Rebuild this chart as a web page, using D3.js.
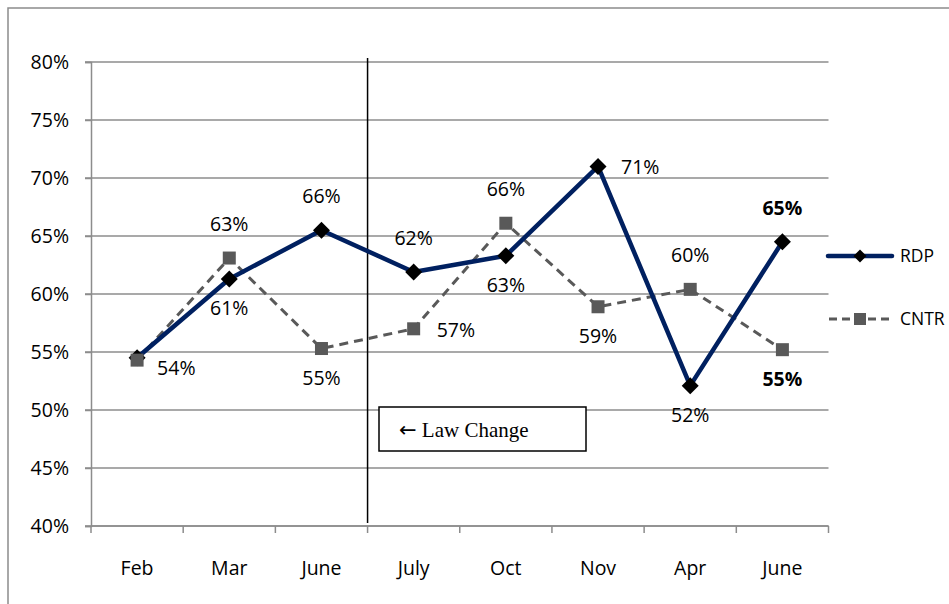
<!DOCTYPE html>
<html>
<head>
<meta charset="utf-8">
<script src="https://cdn.jsdelivr.net/npm/d3@7"></script>
<style>
  body { margin: 0; background: #fff; }
  text { font-family: "Open Sans", Lato, sans-serif; fill: #000; }
</style>
</head>
<body>
<svg width="949" height="604"></svg>
<script>
// data
var months = ["Feb", "Mar", "June", "July", "Oct", "Nov", "Apr", "June"];
var rdp  = [54.5, 61.3, 65.5, 61.9, 63.3, 71.0, 52.1, 64.5];
var cntr = [54.3, 63.1, 55.3, 57.0, 66.1, 58.9, 60.4, 55.2];
var rdpLabels  = ["54%", "61%", "66%", "62%", "63%", "71%", "52%", "65%"];
var cntrLabels = ["", "63%", "55%", "57%", "66%", "59%", "60%", "55%"];
var yTicks = [40, 45, 50, 55, 60, 65, 70, 75, 80];

// where each data label sits relative to its point
var rdpPos  = ["rb", "below", "above", "above", "below", "right", "below", "above"];
var cntrPos = ["", "above", "below", "right", "above", "below", "above", "below"];

var svg = d3.select("svg");
var fs = "19.5px";

// outer frame (only top and left show)
svg.append("path")
    .attr("d", "M8,604 L8,8 L949,8")
    .attr("fill", "none")
    .attr("stroke", "#8c8c8c")
    .attr("stroke-width", 1.5);

var x = d3.scaleBand()
    .domain(d3.range(months.length))
    .range([91, 828.5]);

var y = d3.scaleLinear()
    .domain([40, 80])
    .range([526, 62]);

// gridlines
svg.append("g")
    .selectAll("line")
    .data(yTicks)
    .enter().append("line")
    .attr("x1", 85).attr("x2", 828.5)
    .attr("y1", d => y(d)).attr("y2", d => y(d))
    .attr("stroke", "#8c8c8c")
    .attr("stroke-width", 1.5);

// y axis
var yAxis = svg.append("g")
    .attr("transform", "translate(91,0)")
    .call(d3.axisLeft(y).tickValues(yTicks).tickSize(6).tickFormat(d => d + "%"));
yAxis.select(".domain").attr("stroke", "#8c8c8c").attr("stroke-width", 1.5);
yAxis.selectAll(".tick line").attr("stroke", "#8c8c8c").attr("stroke-width", 1.5);
yAxis.selectAll("text")
    .attr("x", -22)
    .attr("dy", "0.34em")
    .style("font-size", fs)
    .style("font-family", "'Open Sans', Lato, sans-serif");

// x axis, ticks at band boundaries
var bounds = d3.range(months.length + 1).map(i => 91 + i * x.step());
var xAxis = svg.append("g");
xAxis.append("line")
    .attr("x1", 91).attr("x2", 828.5)
    .attr("y1", y(40)).attr("y2", y(40))
    .attr("stroke", "#8c8c8c").attr("stroke-width", 1.5);
xAxis.selectAll(".tk")
    .data(bounds)
    .enter().append("line")
    .attr("class", "tk")
    .attr("x1", d => d).attr("x2", d => d)
    .attr("y1", y(40)).attr("y2", y(40) + 7)
    .attr("stroke", "#8c8c8c").attr("stroke-width", 1.5);
xAxis.selectAll("text")
    .data(months)
    .enter().append("text")
    .attr("x", (d, i) => x(i) + x.bandwidth() / 2)
    .attr("y", 575)
    .attr("text-anchor", "middle")
    .style("font-size", fs)
    .text(d => d);

// law change line + box
svg.append("line")
    .attr("x1", bounds[3]).attr("x2", bounds[3])
    .attr("y1", 58).attr("y2", 523)
    .attr("stroke", "#000").attr("stroke-width", 1.5);
svg.append("rect")
    .attr("x", 379).attr("y", 407)
    .attr("width", 207).attr("height", 44)
    .attr("fill", "#fff")
    .attr("stroke", "#000").attr("stroke-width", 1.5);
var law = svg.append("text")
    .attr("x", 399).attr("y", 437)
    .style("font-family", "'Liberation Serif', 'DejaVu Serif', serif")
    .style("font-size", "21px");
law.append("tspan")
    .style("font-family", "'DejaVu Sans', sans-serif")
    .style("font-size", "21px")
    .text("\u2190");
law.append("tspan").text(" Law Change");

var cx = i => x(i) + x.bandwidth() / 2;
var line = d3.line().x((d, i) => cx(i)).y(d => y(d));

// CNTR
svg.append("path")
    .datum(cntr)
    .attr("d", line)
    .attr("fill", "none")
    .attr("stroke", "#595959")
    .attr("stroke-width", 3)
    .attr("stroke-dasharray", "9,6");

// RDP
svg.append("path")
    .datum(rdp)
    .attr("d", line)
    .attr("fill", "none")
    .attr("stroke", "#002060")
    .attr("stroke-width", 4.5)
    .attr("stroke-linejoin", "round");

function diamondPath(s) {
  return "M0," + (-s) + "L" + s + ",0L0," + s + "L" + (-s) + ",0Z";
}

svg.append("g").selectAll("path")
    .data(rdp)
    .enter().append("path")
    .attr("transform", (d, i) => "translate(" + cx(i) + "," + y(d) + ")")
    .attr("d", diamondPath(8.5))
    .attr("fill", "#000");

svg.append("g").selectAll("rect")
    .data(cntr)
    .enter().append("rect")
    .attr("x", (d, i) => cx(i) - 6.5)
    .attr("y", d => y(d) - 6.5)
    .attr("width", 13).attr("height", 13)
    .attr("fill", "#595959");

// data labels
function labelXY(pos, i, v) {
  var px = cx(i), py = y(v);
  if (pos == "above") return [px, py - 27, "middle"];
  if (pos == "below") return [px, py + 36, "middle"];
  if (pos == "right") return [px + 23, py + 8, "start"];
  if (pos == "rb") return [px + 20, py + 17, "start"];
  return [px, py, "middle"];
}
function drawLabels(vals, labels, pos) {
  labels.forEach(function(t, i) {
    if (!t) return;
    var p = labelXY(pos[i], i, vals[i]);
    svg.append("text")
        .attr("x", p[0]).attr("y", p[1])
        .attr("text-anchor", p[2])
        .style("font-size", fs)
        .style("font-weight", i == vals.length - 1 ? "bold" : "normal")
        .text(t);
  });
}
drawLabels(rdp, rdpLabels, rdpPos);
drawLabels(cntr, cntrLabels, cntrPos);

// legend
var lg = svg.append("g");
lg.append("line")
    .attr("x1", 828).attr("x2", 892)
    .attr("y1", 256).attr("y2", 256)
    .attr("stroke", "#002060").attr("stroke-width", 4.5)
    .attr("stroke-linecap", "round");
lg.append("path")
    .attr("transform", "translate(860,256)")
    .attr("d", diamondPath(6.5))
    .attr("fill", "#000");
lg.append("text")
    .attr("x", 900).attr("y", 262)
    .style("font-size", "17.5px")
    .text("RDP");
lg.append("line")
    .attr("x1", 829).attr("x2", 892)
    .attr("y1", 319).attr("y2", 319)
    .attr("stroke", "#595959").attr("stroke-width", 3)
    .attr("stroke-dasharray", "8,5");
lg.append("rect")
    .attr("x", 854).attr("y", 313)
    .attr("width", 12).attr("height", 12)
    .attr("fill", "#595959");
lg.append("text")
    .attr("x", 900).attr("y", 325)
    .style("font-size", "17.5px")
    .text("CNTR");
</script>
</body>
</html>
